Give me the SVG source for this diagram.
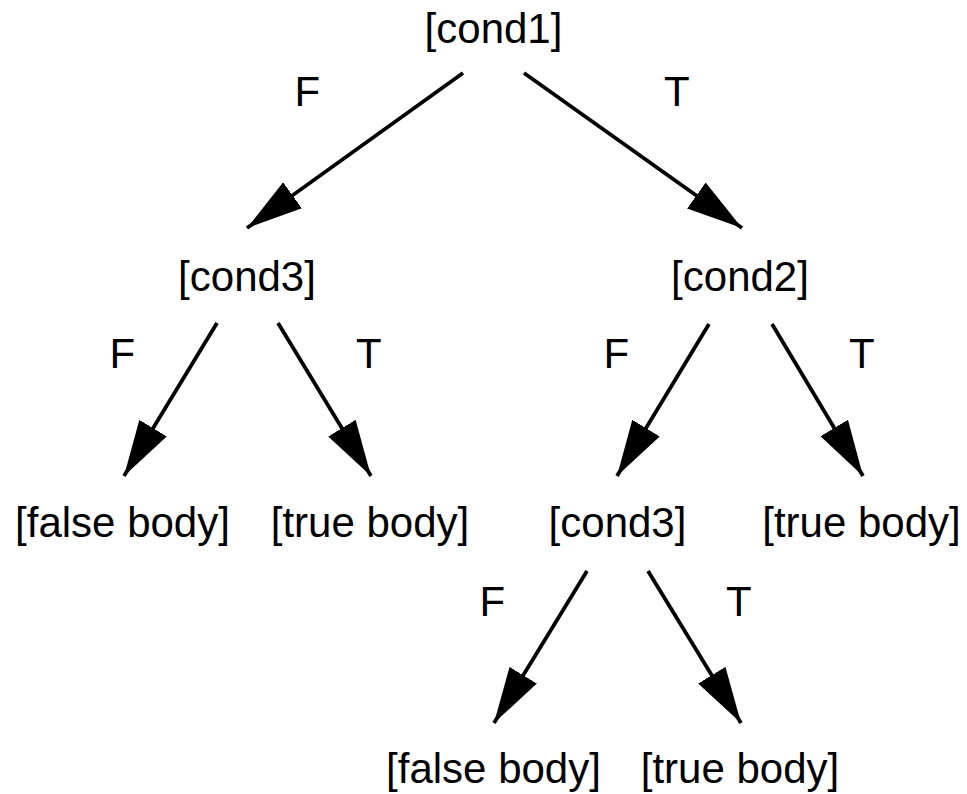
<svg xmlns="http://www.w3.org/2000/svg" width="967" height="794" viewBox="0 0 967 794">
<style>
  text { font-family: "Liberation Sans", Arial, sans-serif; font-size: 42px; fill: #000; }
  .node { text-anchor: middle; }
  .edge { stroke: #000; stroke-width: 3.8; fill: none; marker-end: url(#ah); }
</style>
<defs>
  <marker id="ah" markerUnits="userSpaceOnUse" markerWidth="60" markerHeight="34" refX="56" refY="17" orient="auto" viewBox="0 0 60 34">
    <path d="M0,1 L56,17 L0,33 Z" fill="#000"/>
  </marker>
</defs>
<rect width="967" height="794" fill="#fff"/>
<g id="connectors">
  <line class="edge" x1="463" y1="73" x2="247" y2="228"/>
  <line class="edge" x1="524" y1="73" x2="742" y2="228"/>
  <line class="edge" x1="217" y1="323" x2="124" y2="476"/>
  <line class="edge" x1="278" y1="323" x2="371" y2="476"/>
  <line class="edge" x1="709" y1="324" x2="617" y2="476"/>
  <line class="edge" x1="772" y1="324" x2="863" y2="476"/>
  <line class="edge" x1="587" y1="571" x2="494" y2="723"/>
  <line class="edge" x1="648" y1="571" x2="741" y2="723"/>
  <text x="294.5" y="106">F</text>
  <text x="664" y="106">T</text>
  <text x="109.5" y="368">F</text>
  <text x="356" y="368">T</text>
  <text x="603.5" y="368">F</text>
  <text x="849" y="368">T</text>
  <text x="479.5" y="616">F</text>
  <text x="726" y="616">T</text>
</g>
<g id="cond1"><text class="node" x="493.5" y="43">[cond1]</text></g>
<g id="cond3a"><text class="node" x="247" y="291">[cond3]</text></g>
<g id="cond2"><text class="node" x="740" y="291">[cond2]</text></g>
<g id="false1"><text class="node" x="122.5" y="537">[false body]</text></g>
<g id="true1"><text class="node" x="370" y="537">[true body]</text></g>
<g id="cond3b"><text class="node" x="617.5" y="537">[cond3]</text></g>
<g id="true2"><text class="node" x="861.5" y="537">[true body]</text></g>
<g id="false2"><text class="node" x="493.5" y="783">[false body]</text></g>
<g id="true3"><text class="node" x="740" y="783">[true body]</text></g>
</svg>
